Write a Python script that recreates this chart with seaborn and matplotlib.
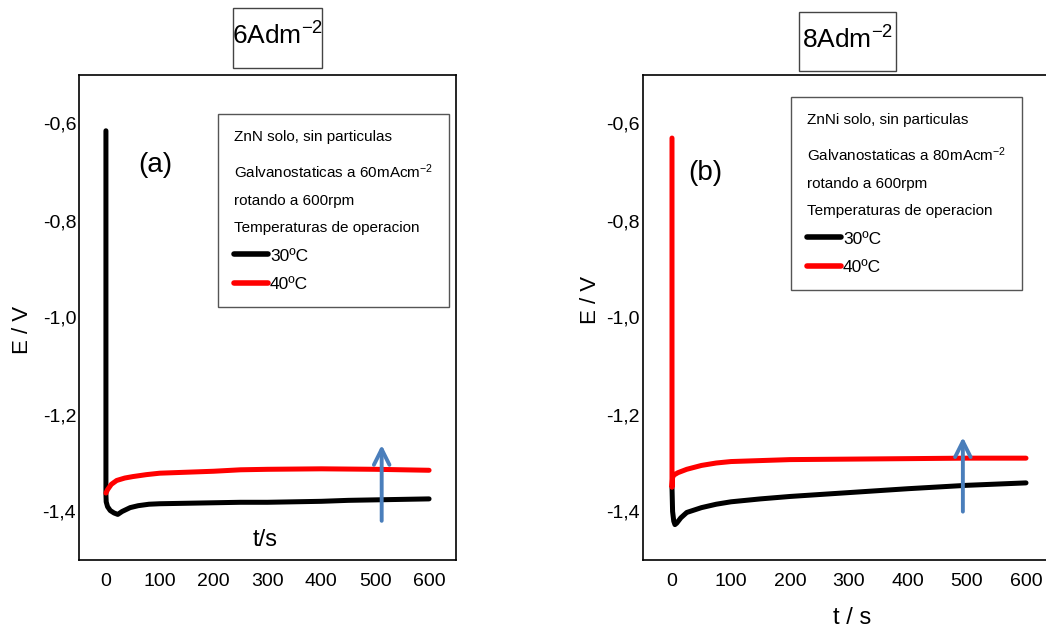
import matplotlib
matplotlib.use("Agg")
import matplotlib.pyplot as plt
from matplotlib import font_manager
from matplotlib.patches import Rectangle
import seaborn as sns
import pandas as pd

# ---------------- data ----------------
temps = ["30ºC", "40ºC"]
colors = {"30ºC": "black", "40ºC": "red"}

# panel (a) 6 A dm-2
a_t30 = [0, 0, 0.5, 3, 8, 15, 22, 30, 45, 60, 80, 100, 150, 200, 250, 300, 350, 400, 450, 500, 550, 600]
a_e30 = [-0.615, -1.365, -1.380, -1.390, -1.398, -1.403, -1.406, -1.400, -1.392, -1.388, -1.385, -1.384,
         -1.383, -1.382, -1.381, -1.381, -1.380, -1.379, -1.377, -1.376, -1.375, -1.374]
a_t40 = [0, 3, 10, 20, 35, 50, 75, 100, 150, 200, 250, 300, 400, 500, 550, 600]
a_e40 = [-1.362, -1.355, -1.344, -1.336, -1.331, -1.328, -1.324, -1.321, -1.319, -1.317, -1.314, -1.313,
         -1.312, -1.313, -1.314, -1.315]

# panel (b) 8 A dm-2
b_t30 = [0, 1, 3, 5, 8, 15, 25, 50, 75, 100, 150, 200, 300, 400, 500, 600]
b_e30 = [-1.350, -1.400, -1.420, -1.427, -1.424, -1.413, -1.402, -1.392, -1.385, -1.380, -1.374, -1.369,
         -1.361, -1.353, -1.346, -1.341]
b_t40 = [0, 0, 1, 3, 10, 25, 50, 75, 100, 150, 200, 300, 400, 500, 600]
b_e40 = [-0.630, -1.350, -1.330, -1.325, -1.320, -1.313, -1.305, -1.300, -1.297, -1.295, -1.293, -1.292,
         -1.291, -1.290, -1.290]

xticks = [0, 100, 200, 300, 400, 500, 600]
yticks = [-0.6, -0.8, -1.0, -1.2, -1.4]
ylabels = ["-0,6", "-0,8", "-1,0", "-1,2", "-1,4"]

titles = ["6Adm$^{-2}$", "8Adm$^{-2}$"]
panel_tags = ["(a)", "(b)"]
legend_titles = [
    "ZnN solo, sin particulas\nGalvanostaticas a 60mAcm$^{-2}$\nrotando a 600rpm\nTemperaturas de operacion",
    "ZnNi solo, sin particulas\nGalvanostaticas a 80mAcm$^{-2}$\nrotando a 600rpm\nTemperaturas de operacion",
]
arrows = [(512, -1.425, -1.257), (493, -1.406, -1.241)]

# ---------------- style ----------------
sns.set_style("white")
names = {f.name for f in font_manager.fontManager.ttflist}
fam = "Liberation Sans Narrow" if "Liberation Sans Narrow" in names else "Liberation Sans"
plt.rcParams["font.family"] = [fam, "DejaVu Sans"]
plt.rcParams["mathtext.fontset"] = "custom"
plt.rcParams["mathtext.rm"] = fam
plt.rcParams["mathtext.it"] = fam
plt.rcParams["mathtext.bf"] = fam
plt.rcParams["text.color"] = "black"
plt.rcParams["axes.labelcolor"] = "black"
plt.rcParams["xtick.color"] = "black"
plt.rcParams["ytick.color"] = "black"

W, H = 1046, 633
fig = plt.figure(figsize=(W / 100, H / 100), dpi=100)

def fx(px):
    return px / W

def fy(py):
    return 1 - py / H

ax_rects = [
    [fx(79), fy(560), fx(377), 485 / H],
    [fx(642.5), fy(560), fx(413), 485 / H],
]

def make_df(t30, e30, t40, e40):
    d1 = pd.DataFrame({"t": t30, "E": e30, "T": temps[0]})
    d2 = pd.DataFrame({"t": t40, "E": e40, "T": temps[1]})
    return pd.concat([d1, d2], ignore_index=True)

dfs = [make_df(a_t30, a_e30, a_t40, a_e40), make_df(b_t30, b_e30, b_t40, b_e40)]

legend_anchor = [(218, 114), (791, 97)]
title_boxes = [(233, 8, 89, 60), (799, 12, 97, 59)]
tag_pos = [(155, 165), (705, 173)]
ev_pos = [(23, 330), (590, 300)]
ts_pos = [(265, 540), (852, 618)]
ts_text = ["t/s", "t / s"]

for i in range(2):
    ax = fig.add_axes(ax_rects[i])
    sns.lineplot(data=dfs[i], x="t", y="E", hue="T", hue_order=temps, palette=colors,
                 estimator=None, sort=False, lw=3.6, ax=ax, legend=True)
    ax.set_xlim(-50, 650)
    ax.set_ylim(-1.5, -0.5)
    ax.set_xticks(xticks)
    ax.set_yticks(yticks, labels=ylabels)
    ax.set_xlabel("")
    ax.set_ylabel("")
    ax.tick_params(axis="x", direction="in", length=9, width=1.2, labelsize=14, pad=9, colors="black")
    ax.tick_params(axis="y", direction="in", length=6, width=1.2, labelsize=14, pad=2, colors="black")
    for s in ax.spines.values():
        s.set_visible(True)
        s.set_color("black")
        s.set_linewidth(1.2)

    handles, labels = ax.get_legend_handles_labels()
    leg = ax.legend(handles, labels, title=legend_titles[i], loc="upper left",
                    bbox_to_anchor=(fx(legend_anchor[i][0]), fy(legend_anchor[i][1])),
                    bbox_transform=fig.transFigure, borderaxespad=0, fancybox=False,
                    framealpha=1, edgecolor="#555555", fontsize=12.5, title_fontsize=11,
                    handlelength=2.0, handletextpad=0.1, labelspacing=0.75,
                    borderpad=0.9, frameon=True)
    leg._legend_box.align = "left"
    leg.get_title().set_linespacing(2.2)
    leg.get_frame().set_linewidth(1.0)
    for h in leg.legend_handles:
        h.set_linewidth(4)

    # arrow
    ax_x, y0, y1 = arrows[i]
    ax.annotate("", xy=(ax_x, y1), xytext=(ax_x, y0),
                arrowprops=dict(arrowstyle="->", color="#4a7ebb", lw=2.8, mutation_scale=28))

    # title box
    bx, by, bw, bh = title_boxes[i]
    fig.patches.append(Rectangle((fx(bx), fy(by + bh)), fx(bw), bh / H, transform=fig.transFigure,
                                 fill=False, edgecolor="#444444", lw=1.0))
    fig.text(fx(bx + bw / 2), fy(by + bh / 2 - 2), titles[i], ha="center", va="center", fontsize=19)

    fig.text(fx(tag_pos[i][0]), fy(tag_pos[i][1]), panel_tags[i], ha="center", va="center", fontsize=20)
    fig.text(fx(ev_pos[i][0]), fy(ev_pos[i][1]), "E / V", ha="center", va="center",
             rotation=90, fontsize=16)
    fig.text(fx(ts_pos[i][0]), fy(ts_pos[i][1]), ts_text[i], ha="center", va="center", fontsize=17)

fig.savefig("out.png", dpi=100)
